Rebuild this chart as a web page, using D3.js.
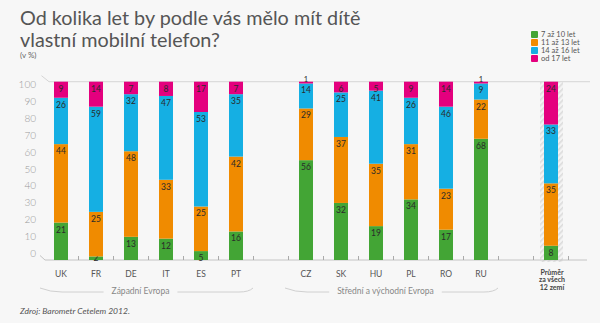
<!DOCTYPE html>
<html>
<head>
<meta charset="utf-8">
<script src="https://cdn.jsdelivr.net/npm/d3@7"></script>
<style>
  body { margin: 0; background: #f7f7f7; }
  svg { display: block; font-family: Lato, "Open Sans", sans-serif; }
</style>
</head>
<body>
<div id="chart"></div>
<script>
const width = 600;
const height = 323;

// data (v %)
const countries = ["UK", "FR", "DE", "IT", "ES", "PT", "CZ", "SK", "HU", "PL", "RO", "RU", "avg"];
const age7to10 = [21, 2, 13, 12, 5, 16, 56, 32, 19, 34, 17, 68, 8];
const age11to13 = [44, 25, 48, 33, 25, 42, 29, 37, 35, 31, 23, 22, 35];
const age14to16 = [26, 59, 32, 47, 53, 35, 14, 25, 41, 26, 46, 9, 33];
const age17plus = [9, 14, 7, 8, 17, 7, 1, 6, 5, 9, 14, 1, 24];
const seriesNames = ["7 až 10 let", "11 až 13 let", "14 až 16 let", "od 17 let"];
const colors = ["#43a535", "#f08b00", "#15afe3", "#e4007e"];
const yTicks = [0, 10, 20, 30, 40, 50, 60, 70, 80, 90, 100];
const slots = ["UK", "FR", "DE", "IT", "ES", "PT", "gap1", "CZ", "SK", "HU", "PL", "RO", "RU", "gap2", "avg"];
const groups = [
  {name: "Západní Evropa", from: "UK", to: "PT"},
  {name: "Střední a východní Evropa", from: "CZ", to: "RU"}
];
const avgLabel = ["Průměr", "za všech", "12 zemí"];

const svg = d3.select("#chart").append("svg")
  .attr("width", width)
  .attr("height", height);

svg.append("rect").attr("width", width).attr("height", height).attr("fill", "#f7f7f7");

const x = d3.scalePoint().domain(slots).range([61, 551]);
const step = x.step();
const barW = 14;
const y = d3.scaleLinear().domain([0, 100]).range([260, 81.7]);
const yLab = d3.scaleLinear().domain([0, 100]).range([253.5, 84.5]);

// hatch pattern for the average column
const defs = svg.append("defs");
const pat = defs.append("pattern")
  .attr("id", "hatch")
  .attr("patternUnits", "userSpaceOnUse")
  .attr("width", 4).attr("height", 4)
  .attr("patternTransform", "rotate(45)");
pat.append("rect").attr("width", 4).attr("height", 4).attr("fill", "#f4f4f4");
pat.append("rect").attr("width", 1.6).attr("height", 4).attr("fill", "#dcdcdc");

svg.append("rect")
  .attr("x", x("avg") - 11).attr("y", y(100))
  .attr("width", 23).attr("height", y(0) - y(100) + 2)
  .attr("fill", "url(#hatch)");

// title
svg.append("text").attr("x", 20).attr("y", 25)
  .attr("font-size", 19.8).attr("fill", "#555")
  .text("Od kolika let by podle vás mělo mít dítě");
svg.append("text").attr("x", 20).attr("y", 47)
  .attr("font-size", 19.8).attr("fill", "#555")
  .text("vlastní mobilní telefon?");
svg.append("text").attr("x", 20).attr("y", 58)
  .attr("font-size", 8).attr("fill", "#666")
  .text("(v %)");

// top and base lines
svg.append("path")
  .attr("d", `M41.5,${y(100) - 6}L49,${y(100)}H590`)
  .attr("fill", "none").attr("stroke", "#d6d6d6").attr("stroke-width", 1);
svg.append("path")
  .attr("d", `M40,${y(0) - 4.5}L45,${y(0)}H587`)
  .attr("fill", "none").attr("stroke", "#c4c4c4").attr("stroke-width", 1);

// y labels
svg.append("g").selectAll("text")
  .data(yTicks)
  .join("text")
  .attr("x", 36)
  .attr("y", d => yLab(d))
  .attr("dy", "0.35em")
  .attr("text-anchor", "end")
  .attr("font-size", 10)
  .attr("font-weight", 300)
  .attr("fill", "#999")
  .text(d => d);

// little ticks between slots
svg.append("g").selectAll("line")
  .data(slots)
  .join("line")
  .attr("x1", d => x(d) + step / 2)
  .attr("x2", d => x(d) + step / 2)
  .attr("y1", y(0) - 4)
  .attr("y2", y(0))
  .attr("stroke", "#aaa");

// stacked bars
const rows = countries.map((c, i) => ({
  key: c,
  s0: age7to10[i], s1: age11to13[i], s2: age14to16[i], s3: age17plus[i]
}));
const stacked = d3.stack().keys(["s0", "s1", "s2", "s3"])(rows);

const layer = svg.append("g").selectAll("g")
  .data(stacked)
  .join("g")
  .attr("fill", (d, i) => colors[i]);

layer.selectAll("rect")
  .data(d => d)
  .join("rect")
  .attr("x", d => x(d.data.key) - barW / 2)
  .attr("y", d => y(d[1]))
  .attr("width", barW)
  .attr("height", d => y(d[0]) - y(d[1]));

function labelY(d) {
  const h = y(d[0]) - y(d[1]);
  if (h >= 6) return y(d[1]) + 7;
  // tiny segment on top of the bar: label sits on the edge
  if (d[1] >= 100) return y(d[1]) - 2.5;
  return y(d[1]) + h / 2 - 0.5;
}

layer.selectAll("text")
  .data(d => d)
  .join("text")
  .attr("x", d => x(d.data.key))
  .attr("y", labelY)
  .attr("dy", "0.35em")
  .attr("text-anchor", "middle")
  .attr("font-size", d => (d[1] - d[0]) < 2 ? 7.5 : 8.5)
  .attr("fill", "#2a2a2a")
  .text(d => d[1] - d[0]);

// category labels
svg.append("g").selectAll("text")
  .data(countries.filter(c => c != "avg"))
  .join("text")
  .attr("x", d => x(d))
  .attr("y", 277)
  .attr("text-anchor", "middle")
  .attr("font-size", 8.5)
  .attr("fill", "#555")
  .text(d => d);

svg.append("g").selectAll("text")
  .data(avgLabel)
  .join("text")
  .attr("x", x("avg") + 1)
  .attr("y", (d, i) => 275 + i * 7.3)
  .attr("text-anchor", "middle")
  .attr("font-size", 7)
  .attr("font-weight", 700)
  .attr("fill", "#444")
  .text(d => d);

// group brackets
groups.forEach(g => {
  const x0 = x(g.from) - 21, x1 = x(g.to) + 17;
  const cx = (x0 + x1) / 2 - 6;
  const t = svg.append("text")
    .attr("x", cx).attr("y", 294)
    .attr("text-anchor", "middle")
    .attr("font-size", 8.5)
    .attr("fill", "#888")
    .text(g.name);
  const half = t.node().getComputedTextLength() / 2 + 8;
  svg.append("path")
    .attr("d", `M${x0},288Q${x0 + 10},292 ${x0 + 22},292H${cx - half}`)
    .attr("fill", "none").attr("stroke", "#d0d0d0");
  svg.append("path")
    .attr("d", `M${cx + half},292H${x1 - 14}Q${x1 - 4},292 ${x1},288`)
    .attr("fill", "none").attr("stroke", "#d0d0d0");
});

// source
svg.append("text").attr("x", 20).attr("y", 314)
  .attr("font-size", 8.5).attr("font-style", "italic").attr("fill", "#555")
  .text("Zdroj: Barometr Cetelem 2012.");

// legend
const leg = svg.append("g").selectAll("g")
  .data(seriesNames)
  .join("g")
  .attr("transform", (d, i) => `translate(531,${31 + i * 8})`);
leg.append("rect")
  .attr("width", 7).attr("height", 7)
  .attr("rx", 1)
  .attr("fill", (d, i) => colors[i]);
leg.append("text")
  .attr("x", 10).attr("y", 3.5).attr("dy", "0.35em")
  .attr("font-size", 7.5).attr("fill", "#555")
  .text(d => d);
</script>
</body>
</html>
